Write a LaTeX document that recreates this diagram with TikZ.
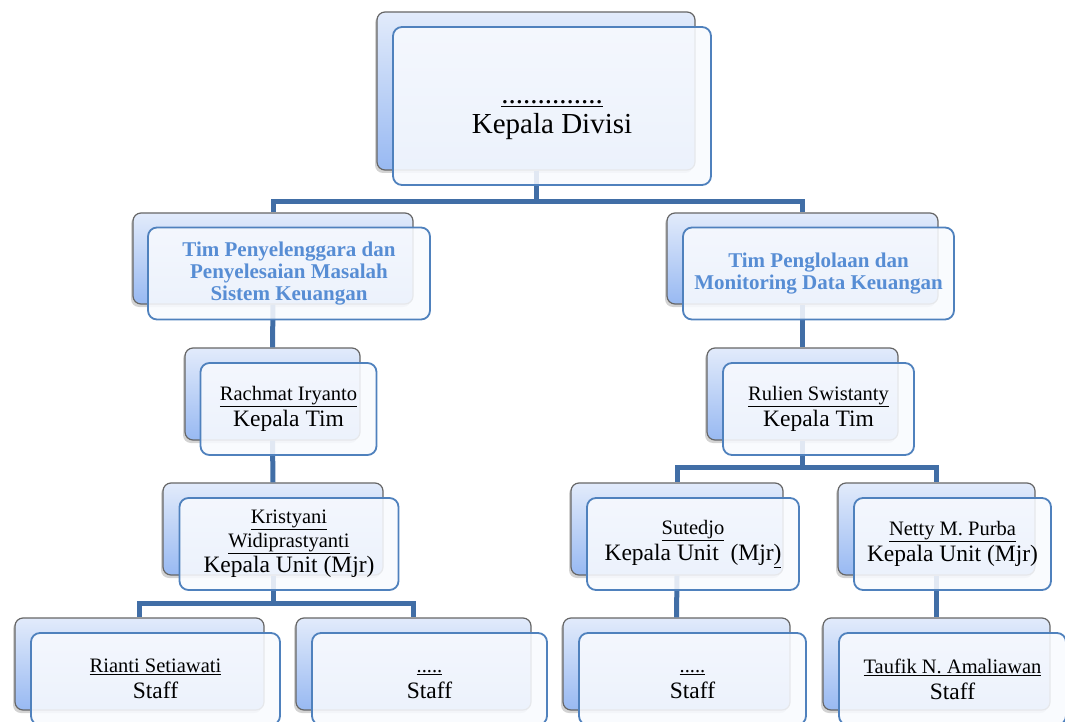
\documentclass[tikz,border=0pt]{standalone}
\usepackage{fontspec}
\setmainfont{Liberation Serif}
\usetikzlibrary{shadows,positioning}
\definecolor{linkblue}{RGB}{65,110,166}
\definecolor{frameblue}{RGB}{79,129,189}
\definecolor{teamblue}{RGB}{87,141,212}
\definecolor{backtop}{RGB}{226,235,251}
\definecolor{backbot}{RGB}{152,185,242}
\definecolor{frontfill}{RGB}{248,250,254}
\newcommand{\nm}[1]{{\fontsize{20.5}{23}\selectfont\underline{#1}}}
\newcommand{\role}[1]{{\fontsize{23.5}{23}\selectfont #1}}
\tikzset{
  boxsize/.style 2 args={minimum width=#1pt,minimum height=#2pt,inner sep=0pt},
  backbox/.style={draw=gray!80!black,line width=1.2pt,rounded corners=8pt,
    top color=backtop,bottom color=backbot,
    drop shadow={shadow xshift=-2pt,shadow yshift=-3pt,opacity=0.35}},
  frontbox/.style={draw=frameblue,line width=1.8pt,rounded corners=9pt,
    fill=frontfill,fill opacity=0.88,text opacity=1,align=center,
    font=\fontsize{21}{23}\selectfont},
  teamtext/.style={font=\fontsize{21}{22}\selectfont\bfseries,text=teamblue},
  link/.style={draw=linkblue,line width=5pt}
}
\begin{document}
\begin{tikzpicture}[x=1pt,y=-1pt]
\useasboundingbox (0,0) rectangle (1065,722);

% back boxes
\node[backbox,boxsize={318}{158}] (divB) at (536,91) {};
\node[backbox,boxsize={280}{91}] (timAB) at (273,258.5) {};
\node[backbox,boxsize={271}{91}] (timBB) at (802.5,258.5) {};
\node[backbox,boxsize={175}{92}] (rachB) at (272.5,394) {};
\node[backbox,boxsize={191}{92}] (rulB) at (802.5,394) {};
\node[backbox,boxsize={220}{92}] (krisB) at (273,529) {};
\node[backbox,boxsize={212}{92}] (sutB) at (677,529) {};
\node[backbox,boxsize={197}{92}] (netB) at (936.5,529) {};
\node[backbox,boxsize={249}{92}] (rianB) at (139.5,664) {};
\node[backbox,boxsize={235}{92}] (dotAB) at (413.5,664) {};
\node[backbox,boxsize={227}{92}] (dotBB) at (676.5,664) {};
\node[backbox,boxsize={227}{92}] (taufB) at (936.5,664) {};

% connectors
\draw[link] (divB.south) |- ([yshift=11pt]timAB.north) -- (timAB.north);
\draw[link] (divB.south) |- ([yshift=11pt]timBB.north) -- (timBB.north);
\draw[link] (timAB.south) -- (rachB.north);
\draw[link] (timBB.south) -- (rulB.north);
\draw[link] (rachB.south) -- (krisB.north);
\draw[link] (rulB.south) |- ([yshift=15pt]sutB.north) -- (sutB.north);
\draw[link] (rulB.south) |- ([yshift=15pt]netB.north) -- (netB.north);
\draw[link] (krisB.south) |- ([yshift=14pt]rianB.north) -- (rianB.north);
\draw[link] (krisB.south) |- ([yshift=14pt]dotAB.north) -- (dotAB.north);
\draw[link] (sutB.south) -- (dotBB.north);
\draw[link] (netB.south) -- (taufB.north);

% front boxes
\node[frontbox,boxsize={318}{158},font=\fontsize{29}{26}\selectfont] (div) at ([shift={(16,15)}]divB.center)
  {\rule{0pt}{32pt}\underline{..............}\\[4pt]Kepala Divisi};
\node[frontbox,boxsize={282}{92},teamtext] (timA) at ([shift={(16,15)}]timAB.center)
  {Tim Penyelenggara dan\\Penyelesaian Masalah\\Sistem Keuangan};
\node[frontbox,boxsize={271}{92},teamtext] (timB) at ([shift={(16,15)}]timBB.center)
  {Tim Penglolaan dan\\Monitoring Data Keuangan};
\node[frontbox,boxsize={176}{92}] (rach) at ([shift={(16,15)}]rachB.center)
  {\nm{Rachmat Iryanto}\\[3pt]\role{Kepala Tim}};
\node[frontbox,boxsize={191}{92}] (rul) at ([shift={(16,15)}]rulB.center)
  {\nm{Rulien Swistanty}\\[3pt]\role{Kepala Tim}};
\node[frontbox,boxsize={219}{92}] (kris) at ([shift={(16,15)}]krisB.center)
  {\nm{Kristyani}\\[1pt]\nm{Widiprastyanti}\\[2pt]\role{Kepala Unit (Mjr)}};
\node[frontbox,boxsize={212}{92}] (sut) at ([shift={(16,15)}]sutB.center)
  {\nm{Sutedjo}\\[3pt]\role{Kepala Unit\ \ (Mjr\underline{)}}};
\node[frontbox,boxsize={197}{92}] (net) at ([shift={(16,15)}]netB.center)
  {\nm{Netty M. Purba}\\[3pt]\role{Kepala Unit (Mjr)}};
\node[frontbox,boxsize={249}{92}] (rian) at ([shift={(16,15)}]rianB.center)
  {\nm{Rianti Setiawati}\\[3pt]\role{Staff}};
\node[frontbox,boxsize={235}{92}] (dotA) at ([shift={(16,15)}]dotAB.center)
  {\nm{\rule{0pt}{14pt}.....}\\[3pt]\role{Staff}};
\node[frontbox,boxsize={227}{92}] (dotB) at ([shift={(16,15)}]dotBB.center)
  {\nm{\rule{0pt}{14pt}.....}\\[3pt]\role{Staff}};
\node[frontbox,boxsize={227}{92}] (tauf) at ([shift={(16,15)}]taufB.center)
  {\nm{Taufik N. Amaliawan}\\[3pt]\role{Staff}};
\end{tikzpicture}
\end{document}
